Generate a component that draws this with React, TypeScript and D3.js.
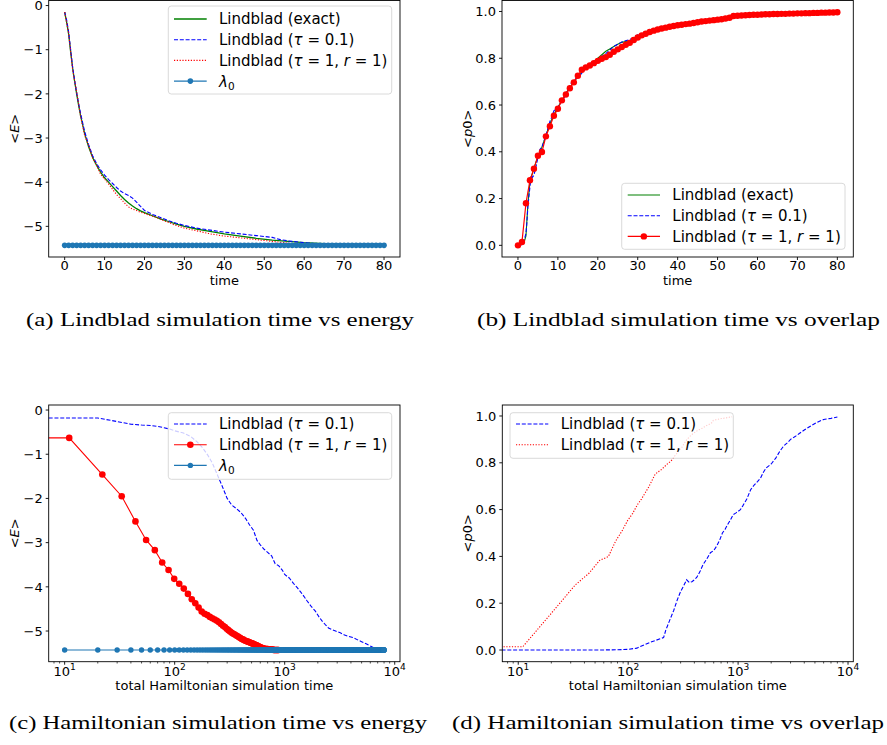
import React from 'react';
import * as d3 from 'd3';

// ---------- data ----------

// tau = 1, r = 1 run: one point per unit of Lindblad time
const stepTimes = d3.range(0, 81);
const redEnergy = [
  -0.15, -0.63, -1.46, -1.95, -2.52, -2.94, -3.17, -3.45, -3.62, -3.82,
  -3.93, -4.04, -4.16, -4.28, -4.37, -4.47, -4.56, -4.61, -4.64, -4.68,
  -4.71, -4.74, -4.77, -4.80, -4.84, -4.88, -4.91, -4.95, -4.98, -5.01,
  -5.04, -5.06, -5.08, -5.10, -5.12, -5.14, -5.16, -5.18, -5.19, -5.21,
  -5.22, -5.23, -5.24, -5.25, -5.26, -5.27, -5.28, -5.29, -5.30, -5.31,
  -5.32, -5.33, -5.34, -5.35, -5.36, -5.37, -5.38, -5.39, -5.39, -5.40,
  -5.40, -5.41, -5.41, -5.41, -5.41, -5.42, -5.42, -5.42, -5.42, -5.42,
  -5.42, -5.42, -5.43, -5.43, -5.43, -5.43, -5.43, -5.43, -5.43, -5.43, -5.43,
];
const redOverlap = [
  0.0, 0.014, 0.18, 0.278, 0.328, 0.383, 0.399, 0.466, 0.509, 0.554,
  0.584, 0.62, 0.645, 0.672, 0.697, 0.725, 0.751, 0.761, 0.769, 0.779,
  0.789, 0.798, 0.805, 0.815, 0.828, 0.838, 0.848, 0.858, 0.866, 0.878,
  0.889, 0.898, 0.905, 0.912, 0.918, 0.923, 0.927, 0.931, 0.935, 0.938,
  0.941, 0.943, 0.946, 0.948, 0.951, 0.954, 0.957, 0.959, 0.961, 0.963,
  0.965, 0.967, 0.970, 0.973, 0.981, 0.982, 0.983, 0.984, 0.985, 0.986,
  0.986, 0.987, 0.988, 0.988, 0.989, 0.989, 0.990, 0.990, 0.991, 0.991,
  0.992, 0.992, 0.993, 0.993, 0.994, 0.994, 0.995, 0.995, 0.996, 0.996, 0.997,
];
// each tau = 1 step costs 11 units of Hamiltonian time
const redHamTime = stepTimes.map((t) => 11 * t);

// exact Lindblad evolution
const exactEnergyTime = [0, 0.5, 1, 1.5, 2, 2.5, 3, 3.5, 4, 5, 6, 7, 8, 9, 10, 11, 12, 13, 14, 15, 16, 17, 18, 19, 20, 22, 24, 26, 28, 30, 33, 36, 40, 44, 48, 52, 56, 60, 65, 70, 75, 80];
const exactEnergy = [-0.15, -0.38, -0.65, -1.05, -1.42, -1.72, -2.0, -2.26, -2.5, -2.9, -3.2, -3.44, -3.62, -3.77, -3.9, -4.0, -4.1, -4.2, -4.3, -4.39, -4.47, -4.54, -4.6, -4.65, -4.69, -4.76, -4.83, -4.89, -4.95, -5.0, -5.06, -5.11, -5.17, -5.22, -5.27, -5.31, -5.34, -5.37, -5.39, -5.41, -5.42, -5.43];
const exactOverlapTime = [0, 1, 1.5, 2, 2.5, 3, 3.5, 4, 5, 6, 7, 8, 9, 10, 11, 12, 13, 14, 15, 16, 17, 18, 19, 20, 21, 22, 23, 24, 25, 26, 27, 28, 29, 30, 32, 35, 40, 45, 50, 53, 54, 60, 70, 80];
const exactOverlap = [0, 0.005, 0.01, 0.04, 0.18, 0.27, 0.3, 0.33, 0.38, 0.42, 0.47, 0.52, 0.56, 0.59, 0.62, 0.65, 0.675, 0.7, 0.72, 0.74, 0.755, 0.77, 0.785, 0.8, 0.815, 0.83, 0.84, 0.85, 0.86, 0.868, 0.872, 0.876, 0.882, 0.89, 0.905, 0.923, 0.942, 0.956, 0.968, 0.975, 0.982, 0.986, 0.991, 0.997];

// tau = 0.1 run
const tau01EnergyTime = [0, 0.5, 1, 1.5, 2, 2.5, 3, 3.5, 4, 5, 6, 7, 8, 9, 10, 11, 12, 13, 14, 15, 16, 17, 18, 19, 20, 22, 24, 26, 28, 30, 33, 36, 40, 44, 48, 52, 54, 56, 60, 65, 70, 75, 80];
const tau01Energy = [-0.15, -0.33, -0.6, -1.0, -1.4, -1.7, -1.97, -2.22, -2.45, -2.85, -3.15, -3.4, -3.58, -3.72, -3.84, -3.94, -4.03, -4.12, -4.2, -4.26, -4.3, -4.36, -4.45, -4.55, -4.64, -4.73, -4.8, -4.87, -4.93, -4.98, -5.04, -5.08, -5.13, -5.17, -5.21, -5.25, -5.3, -5.33, -5.37, -5.4, -5.41, -5.42, -5.42];
const tau01OverlapTime = [0, 1, 1.5, 2, 2.2, 2.5, 3, 3.3, 3.6, 4, 4.5, 5, 5.5, 6, 6.5, 7, 7.5, 8, 8.5, 9, 10, 11, 12, 13, 14, 15, 16, 17, 18, 20, 22, 24, 26, 28, 30, 33, 36, 40, 45, 50, 55, 60, 70, 80];
const tau01Overlap = [0, 0.003, 0.02, 0.05, 0.09, 0.17, 0.25, 0.3, 0.29, 0.3, 0.335, 0.375, 0.41, 0.42, 0.445, 0.47, 0.5, 0.53, 0.55, 0.575, 0.592, 0.615, 0.645, 0.685, 0.705, 0.72, 0.735, 0.76, 0.778, 0.795, 0.82, 0.85, 0.87, 0.88, 0.9, 0.912, 0.925, 0.94, 0.955, 0.968, 0.978, 0.985, 0.99, 0.996];

// tau = 0.1 run against total Hamiltonian simulation time
const tau01HamTimeE = [0, 10, 20, 30, 40, 50, 60, 70, 80, 90, 100, 120, 140, 160, 180, 200, 220, 240, 270, 300, 330, 360, 400, 440, 480, 520, 560, 600, 650, 700, 760, 820, 880, 950, 1000, 1100, 1200, 1300, 1400, 1500, 1600, 1750, 1900, 2050, 2200, 2350, 2500, 2700, 2900, 3200, 3500, 3800, 4200, 4600, 5000, 5500, 6000, 6500, 7000, 7500, 8000];
const tau01HamEnergy = [-0.15, -0.18, -0.18, -0.26, -0.32, -0.34, -0.35, -0.37, -0.4, -0.43, -0.47, -0.52, -0.6, -0.72, -0.86, -1.02, -1.2, -1.42, -1.72, -2.0, -2.15, -2.22, -2.32, -2.45, -2.6, -2.72, -2.95, -3.05, -3.15, -3.22, -3.3, -3.48, -3.52, -3.62, -3.72, -3.8, -3.92, -4.02, -4.12, -4.22, -4.32, -4.45, -4.55, -4.68, -4.78, -4.86, -4.93, -4.97, -5.0, -5.04, -5.09, -5.12, -5.15, -5.2, -5.24, -5.29, -5.34, -5.38, -5.4, -5.41, -5.42];
const tau01HamTimeP = [0, 10, 20, 50, 80, 100, 120, 140, 160, 180, 200, 210, 220, 240, 260, 280, 300, 320, 340, 360, 380, 400, 420, 450, 480, 520, 560, 600, 640, 680, 720, 760, 800, 850, 900, 950, 1000, 1050, 1100, 1200, 1300, 1400, 1500, 1600, 1700, 1800, 2000, 2200, 2400, 2600, 2800, 3000, 3300, 3600, 4000, 4500, 5000, 5500, 6000, 7000, 8000];
const tau01HamOverlap = [0, 0, 0, 0, 0.001, 0.003, 0.008, 0.022, 0.034, 0.042, 0.05, 0.053, 0.085, 0.13, 0.17, 0.215, 0.25, 0.275, 0.3, 0.288, 0.292, 0.3, 0.31, 0.335, 0.365, 0.39, 0.416, 0.425, 0.445, 0.47, 0.5, 0.515, 0.535, 0.555, 0.578, 0.585, 0.592, 0.6, 0.615, 0.645, 0.685, 0.705, 0.72, 0.735, 0.76, 0.778, 0.795, 0.82, 0.85, 0.872, 0.885, 0.9, 0.912, 0.925, 0.94, 0.955, 0.968, 0.978, 0.985, 0.99, 0.996];

// ground state energy
const lambda0 = -5.43;
const lambdaTimes = d3.range(0, 81);
const lambdaHamTimes = d3.range(10, 8001, 10);

const xTicksLin = [0, 10, 20, 30, 40, 50, 60, 70, 80];
const yTicksE = [0, -1, -2, -3, -4, -5];
const yTicksP = [0, 0.2, 0.4, 0.6, 0.8, 1.0];
const xTicksLog = [10, 100, 1000, 10000];

const captions = [
  '(a) Lindblad simulation time vs energy',
  '(b) Lindblad simulation time vs overlap',
  '(c) Hamiltonian simulation time vs energy',
  '(d) Hamiltonian simulation time vs overlap',
];

// ---------- layout ----------
const W = 887;
const H = 745;
const FONT = '"DejaVu Sans", sans-serif';
const FS = 13;      // ticks and axis labels
const FS_LEG = 15;  // legend text
const GREEN = '#008000';
const BLUE = '#0000ff';
const RED = '#ff0000';
const C0 = '#1f77b4';
const DASH = '4 1.8';
const DOT = '1.2 1.6';

type Box = { left: number; right: number; top: number; bottom: number };
const boxA: Box = { left: 48.7, right: 400, top: 0.5, bottom: 257 };
const boxB: Box = { left: 502, right: 853.3, top: 0.5, bottom: 257 };
const boxC: Box = { left: 48.7, right: 400, top: 405, bottom: 661.7 };
const boxD: Box = { left: 502.3, right: 853.3, top: 405, bottom: 661.7 };

const eDomain: [number, number] = [-5.694, 0.114];
const pDomain: [number, number] = [-0.0499, 1.047];
const tDomain: [number, number] = [-4, 84];
const hDomain: [number, number] = [Math.pow(10, 0.855), Math.pow(10, 4.048)];

const fmt = (v: number, digits: number) => (v < 0 ? '\u2212' : '') + Math.abs(v).toFixed(digits);

function pathOf(xs: number[], ys: number[], sx: (v: number) => number, sy: (v: number) => number) {
  const pts: [number, number][] = xs.map((x, i) => [sx(x), sy(ys[i])]);
  return d3.line()(pts) || '';
}

const Tau = () => <tspan fontStyle="italic">τ</tspan>;
const labelExact = <>Lindblad (exact)</>;
const labelTau01 = <>Lindblad (<Tau /> = 0.1)</>;
const labelTau1 = <>Lindblad (<Tau /> = 1, <tspan fontStyle="italic">r</tspan> = 1)</>;
const labelLambda = (
  <>
    <tspan fontStyle="italic">λ</tspan>
    <tspan fontSize={FS_LEG * 0.7} dy={3}>0</tspan>
  </>
);

type Entry = { label: React.ReactNode; color: string; dash?: string; width: number; marker?: number };

function Legend({ x, y, w, h, rows, hx0, hx1, tx, entries }: { x: number; y: number; w: number; h: number; rows: number[]; hx0: number; hx1: number; tx: number; entries: Entry[] }) {
  return (
    <g>
      <rect x={x} y={y} width={w} height={h} rx={3} fill="#fff" fillOpacity={0.8} stroke="#cccccc" strokeOpacity={0.8} strokeWidth={0.9} />
      {entries.map((e, i) => (
        <g key={i}>
          <line x1={hx0} x2={hx1} y1={rows[i]} y2={rows[i]} stroke={e.color} strokeWidth={e.width} strokeDasharray={e.dash} />
          {e.marker ? <circle cx={(hx0 + hx1) / 2} cy={rows[i]} r={e.marker} fill={e.color} /> : null}
          <text x={tx} y={rows[i]} dy="0.36em" fontSize={FS_LEG} fontFamily={FONT}>{e.label}</text>
        </g>
      ))}
    </g>
  );
}

function Clip({ b, id }: { b: Box; id: string }) {
  return (
    <defs>
      <clipPath id={id}>
        <rect x={b.left} y={b.top} width={b.right - b.left} height={b.bottom - b.top} />
      </clipPath>
    </defs>
  );
}

function Border({ b }: { b: Box }) {
  return <rect x={b.left} y={b.top} width={b.right - b.left} height={b.bottom - b.top} fill="none" stroke="#000" strokeWidth={0.9} />;
}

function YAxis({ b, sy, ticks, digits, label }: { b: Box; sy: d3.ScaleLinear<number, number>; ticks: number[]; digits: number; label: React.ReactNode }) {
  const lx = b.left - 30;
  const cy = (b.top + b.bottom) / 2;
  return (
    <g fontFamily={FONT} fontSize={FS}>
      {ticks.map((t) => (
        <g key={t}>
          <line x1={b.left} x2={b.left - 3} y1={sy(t)} y2={sy(t)} stroke="#000" strokeWidth={0.9} />
          <text x={b.left - 6} y={sy(t)} dy="0.36em" textAnchor="end">{fmt(t, digits)}</text>
        </g>
      ))}
      <text transform={`translate(${lx},${cy}) rotate(-90)`} textAnchor="middle">{label}</text>
    </g>
  );
}

function XAxisLin({ b, sx, label }: { b: Box; sx: d3.ScaleLinear<number, number>; label: string }) {
  return (
    <g fontFamily={FONT} fontSize={FS}>
      {xTicksLin.map((t) => (
        <g key={t}>
          <line x1={sx(t)} x2={sx(t)} y1={b.bottom} y2={b.bottom + 3} stroke="#000" strokeWidth={0.9} />
          <text x={sx(t)} y={b.bottom + 12.5} textAnchor="middle">{fmt(t, 0)}</text>
        </g>
      ))}
      <text x={(b.left + b.right) / 2} y={b.bottom + 28} textAnchor="middle">{label}</text>
    </g>
  );
}

function XAxisLog({ b, sx, label }: { b: Box; sx: d3.ScaleLogarithmic<number, number>; label: string }) {
  const minors: number[] = [];
  for (let e = 0; e < 5; e++) {
    for (let m = 2; m < 10; m++) {
      const v = m * Math.pow(10, e);
      if (v > hDomain[0] && v < hDomain[1]) minors.push(v);
    }
  }
  return (
    <g fontFamily={FONT} fontSize={FS}>
      {minors.map((t) => (
        <line key={'m' + t} x1={sx(t)} x2={sx(t)} y1={b.bottom} y2={b.bottom + 1.8} stroke="#000" strokeWidth={0.7} />
      ))}
      {xTicksLog.map((t) => (
        <g key={t}>
          <line x1={sx(t)} x2={sx(t)} y1={b.bottom} y2={b.bottom + 3} stroke="#000" strokeWidth={0.9} />
          <text x={sx(t)} y={b.bottom + 14} textAnchor="middle">
            10<tspan fontSize={FS * 0.7} dy={-5.5}>{Math.round(Math.log10(t))}</tspan>
          </text>
        </g>
      ))}
      <text x={(b.left + b.right) / 2} y={b.bottom + 28} textAnchor="middle">{label}</text>
    </g>
  );
}

const yLabelE = <>{'<'}<tspan fontStyle="italic">E</tspan>{'>'}</>;
const yLabelP = <>{'<'}<tspan fontStyle="italic">p</tspan>0{'>'}</>;

export default function App() {
  // (a)
  const xa = d3.scaleLinear().domain(tDomain).range([boxA.left, boxA.right]);
  const ya = d3.scaleLinear().domain(eDomain).range([boxA.bottom, boxA.top]);
  // (b)
  const xb = d3.scaleLinear().domain(tDomain).range([boxB.left, boxB.right]);
  const yb = d3.scaleLinear().domain(pDomain).range([boxB.bottom, boxB.top]);
  // (c)
  const xcRaw = d3.scaleLog().domain(hDomain).range([boxC.left, boxC.right]);
  const xc = (v: number) => xcRaw(v <= 0 ? 1e-300 : v);
  const yc = d3.scaleLinear().domain(eDomain).range([boxC.bottom, boxC.top]);
  // (d)
  const xdRaw = d3.scaleLog().domain(hDomain).range([boxD.left, boxD.right]);
  const xd = (v: number) => xdRaw(v <= 0 ? 1e-300 : v);
  const yd = d3.scaleLinear().domain(pDomain).range([boxD.bottom, boxD.top]);

  const lamA = lambdaTimes.map(() => lambda0);
  const lamC = lambdaHamTimes.map(() => lambda0);

  return (
    <svg width={W} height={H} style={{ position: 'absolute', left: 0, top: 0, background: '#fff' }}>
      <rect width={W} height={H} fill="#fff" />
      <Clip b={boxA} id="clipA" />
      <Clip b={boxB} id="clipB" />
      <Clip b={boxC} id="clipC" />
      <Clip b={boxD} id="clipD" />

      {/* (a) */}
      <g clipPath="url(#clipA)" fill="none">
        <path d={pathOf(exactEnergyTime, exactEnergy, xa, ya)} stroke={GREEN} strokeWidth={1.3} />
        <path d={pathOf(tau01EnergyTime, tau01Energy, xa, ya)} stroke={BLUE} strokeWidth={1.1} strokeDasharray={DASH} />
        <path d={pathOf(stepTimes, redEnergy, xa, ya)} stroke={RED} strokeWidth={1.1} strokeDasharray={DOT} />
        <path d={pathOf(lambdaTimes, lamA, xa, ya)} stroke={C0} strokeWidth={1.1} />
        {lambdaTimes.map((t) => <circle key={t} cx={xa(t)} cy={ya(lambda0)} r={2.8} fill={C0} />)}
      </g>
      <Border b={boxA} />
      <YAxis b={boxA} sy={ya} ticks={yTicksE} digits={0} label={yLabelE} />
      <XAxisLin b={boxA} sx={xa} label="time" />
      <Legend x={168.3} y={6} w={223.4} h={88} rows={[19, 39.7, 60.4, 81.1]} hx0={174} hx1={206.7} tx={219}
        entries={[
          { label: labelExact, color: GREEN, width: 1.3 },
          { label: labelTau01, color: BLUE, width: 1.1, dash: DASH },
          { label: labelTau1, color: RED, width: 1.1, dash: DOT },
          { label: labelLambda, color: C0, width: 1.1, marker: 2.8 },
        ]} />

      {/* (b) */}
      <g clipPath="url(#clipB)" fill="none">
        <path d={pathOf(exactOverlapTime, exactOverlap, xb, yb)} stroke={GREEN} strokeWidth={1.1} />
        <path d={pathOf(tau01OverlapTime, tau01Overlap, xb, yb)} stroke={BLUE} strokeWidth={1.1} strokeDasharray={DASH} />
        <path d={pathOf(stepTimes, redOverlap, xb, yb)} stroke={RED} strokeWidth={1.2} />
        {stepTimes.map((t, i) => <circle key={t} cx={xb(t)} cy={yb(redOverlap[i])} r={3.2} fill={RED} />)}
      </g>
      <Border b={boxB} />
      <YAxis b={boxB} sy={yb} ticks={yTicksP} digits={1} label={yLabelP} />
      <XAxisLin b={boxB} sx={xb} label="time" />
      <Legend x={621.7} y={183.3} w={223.3} h={66} rows={[195, 215.7, 236.4]} hx0={627.7} hx1={660} tx={672.3}
        entries={[
          { label: labelExact, color: GREEN, width: 1.1 },
          { label: labelTau01, color: BLUE, width: 1.1, dash: DASH },
          { label: labelTau1, color: RED, width: 1.2, marker: 3.2 },
        ]} />

      {/* (c) */}
      <g clipPath="url(#clipC)" fill="none">
        <path d={pathOf(tau01HamTimeE, tau01HamEnergy, xc, yc)} stroke={BLUE} strokeWidth={1.1} strokeDasharray={DASH} />
        <path d={pathOf(redHamTime, redEnergy, xc, yc)} stroke={RED} strokeWidth={1.1} />
        {redHamTime.filter((h) => h > 0).map((h, i) => <circle key={h} cx={xc(h)} cy={yc(redEnergy[i + 1])} r={3.3} fill={RED} />)}
        <path d={pathOf(lambdaHamTimes, lamC, xc, yc)} stroke={C0} strokeWidth={1.1} />
        {lambdaHamTimes.map((h) => <circle key={h} cx={xc(h)} cy={yc(lambda0)} r={2.7} fill={C0} />)}
      </g>
      <Border b={boxC} />
      <YAxis b={boxC} sy={yc} ticks={yTicksE} digits={0} label={yLabelE} />
      <XAxisLog b={boxC} sx={xcRaw} label="total Hamiltonian simulation time" />
      <Legend x={168.3} y={412.7} w={223.4} h={66.6} rows={[424, 444.7, 465.4]} hx0={174} hx1={206.7} tx={219}
        entries={[
          { label: labelTau01, color: BLUE, width: 1.1, dash: DASH },
          { label: labelTau1, color: RED, width: 1.1, marker: 3.3 },
          { label: labelLambda, color: C0, width: 1.1, marker: 2.7 },
        ]} />

      {/* (d) */}
      <g clipPath="url(#clipD)" fill="none">
        <path d={pathOf(tau01HamTimeP, tau01HamOverlap, xd, yd)} stroke={BLUE} strokeWidth={1.1} strokeDasharray={DASH} />
        <path d={pathOf(redHamTime, redOverlap, xd, yd)} stroke={RED} strokeWidth={1.1} strokeDasharray={DOT} />
      </g>
      <Border b={boxD} />
      <YAxis b={boxD} sy={yd} ticks={yTicksP} digits={1} label={yLabelP} />
      <XAxisLog b={boxD} sx={xdRaw} label="total Hamiltonian simulation time" />
      <Legend x={510} y={412.7} w={223.3} h={45.6} rows={[424, 444.7]} hx0={516} hx1={548.3} tx={560.7}
        entries={[
          { label: labelTau01, color: BLUE, width: 1.1, dash: DASH },
          { label: labelTau1, color: RED, width: 1.1, dash: DOT },
        ]} />

      {/* captions */}
      <g fontFamily='"Liberation Serif", serif' fontSize={18.5}>
        <text x={26} y={326} textLength={388} lengthAdjust="spacingAndGlyphs">{captions[0]}</text>
        <text x={477} y={326} textLength={403} lengthAdjust="spacingAndGlyphs">{captions[1]}</text>
        <text x={9} y={729} textLength={418} lengthAdjust="spacingAndGlyphs">{captions[2]}</text>
        <text x={452} y={729} textLength={432} lengthAdjust="spacingAndGlyphs">{captions[3]}</text>
      </g>
    </svg>
  );
}
